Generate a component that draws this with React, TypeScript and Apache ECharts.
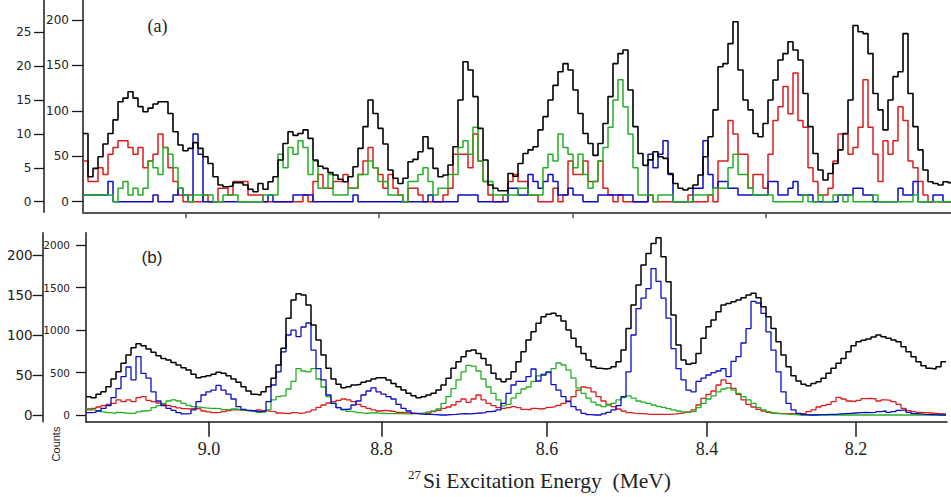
import React, { useEffect, useRef } from "react";
import * as echarts from "echarts";

// ---------- Panel (a): counts per channel ----------
const A_BLACK = [
  75, 27.5, 36.7, 49.5, 63.5, 75, 90, 110, 114, 121,
  114, 104.6, 99, 103, 107.5, 110, 110, 97, 77, 62.4,
  56, 58.7, 65, 58.7, 49.5, 42, 27.5, 18.3, 16.5, 17.2,
  21, 21, 18.3, 13.6, 11, 20, 13.6, 22, 27.5, 45.9,
  64, 77, 73, 75, 79, 69.7, 45.9, 39, 36.7, 32,
  29.4, 24.6, 22, 27.5, 38.5, 58.7, 82.6, 112, 97, 80.7,
  63.5, 34.9, 25.7, 20, 25.7, 44, 46.6, 55, 71.5, 58.7,
  36.7, 27.5, 29.4, 40.4, 60.5, 112, 154, 145, 115.6, 80.7,
  45.9, 18.3, 14.7, 12, 12, 31, 28, 42, 53, 57,
  60.5, 79, 93.6, 112, 128, 143, 152, 145, 123, 97,
  75, 64, 51, 64, 86, 115.6, 152, 163, 167, 123,
  82.6, 53, 40, 46, 55, 49.5, 47.7, 31, 20, 14.7,
  12.8, 14.7, 18.3, 29.4, 49.5, 71.5, 101, 148.6, 152, 174,
  198, 145, 112, 101, 75, 71.5, 86, 112, 134, 156,
  163, 176, 167, 156, 119, 82.6, 53, 34.9, 23.8, 31,
  42, 57, 75, 112, 194, 187, 185, 163, 119, 101,
  79, 112, 137.6, 143, 185, 119, 82.6, 57, 34.9, 22,
  20, 18.3, 22, 21,
];
const A_RED = [
  6, 3, 3, 5, 4, 7, 8, 9, 9, 8,
  7, 8, 5, 6, 7, 10, 8, 5, 3, 1,
  0, 1, 0, 0, 1, 0, 0, 2, 2, 1,
  3, 3, 3, 1, 1, 1, 0, 0, 0, 0,
  0, 0, 0, 0, 1, 0, 3, 4, 2, 2,
  3, 3, 4, 2, 2, 4, 6, 8, 5, 4,
  2, 4, 2, 1, 0, 2, 2, 1, 0, 0,
  0, 0, 1, 2, 7, 7, 7, 5, 10, 6,
  3, 1, 0, 0, 1, 3, 4, 3, 3, 1,
  1, 0, 0, 0, 2, 0, 1, 6, 4, 4,
  6, 3, 3, 6, 2, 1, 0, 1, 0, 0,
  0, 0, 0, 1, 0, 0, 0, 0, 0, 0,
  0, 1, 0, 0, 0, 1, 0, 6, 6, 12,
  10, 7, 7, 2, 4, 4, 2, 7, 12, 14,
  17, 13, 19, 12, 11, 5, 3, 1, 1, 2,
  6, 10, 10, 7, 8, 11, 18, 11, 7, 3,
  9, 7, 9, 14, 12, 6, 5, 3, 1, 0,
  0, 0, 0, 0,
];
const A_GREEN = [
  1, 1, 1, 1, 1, 1, 0, 2, 3, 1,
  2, 1, 2, 6, 5, 4, 8, 7, 5, 2,
  1, 0, 1, 1, 1, 1, 0, 0, 1, 1,
  1, 0, 0, 0, 0, 0, 1, 1, 1, 7,
  5, 8, 7, 9, 8, 4, 6, 2, 2, 4,
  1, 1, 1, 2, 2, 4, 4, 6, 5, 3,
  3, 1, 1, 1, 0, 3, 3, 4, 5, 3,
  1, 2, 2, 4, 4, 8, 9, 7, 11, 6,
  3, 3, 1, 1, 1, 1, 1, 2, 2, 1,
  1, 1, 5, 7, 6, 10, 8, 7, 5, 7,
  4, 2, 3, 6, 8, 11, 15, 18, 14, 10,
  5, 1, 1, 1, 0, 1, 1, 1, 0, 0,
  0, 0, 1, 1, 1, 1, 2, 2, 2, 5,
  7, 4, 4, 2, 1, 1, 1, 1, 0, 0,
  0, 0, 0, 0, 1, 0, 0, 1, 0, 0,
  1, 1, 0, 1, 0, 0, 0, 0, 1, 0,
  0, 0, 0, 0, 0, 0, 1, 0, 0, 0,
  0, 0, 0, 0,
];
const A_BLUE = [
  1, 1, 1, 1, 1, 3, 0, 0, 0, 0,
  0, 0, 0, 0, 1, 0, 0, 0, 1, 2,
  1, 0, 10, 7, 0, 0, 0, 0, 0, 0,
  0, 0, 0, 0, 0, 0, 0, 1, 0, 0,
  0, 0, 1, 1, 1, 1, 0, 0, 0, 0,
  0, 0, 0, 0, 1, 0, 0, 0, 0, 0,
  0, 0, 0, 0, 0, 0, 0, 0, 0, 1,
  0, 0, 0, 0, 0, 1, 1, 1, 1, 0,
  0, 0, 0, 0, 0, 2, 2, 1, 1, 4,
  3, 2, 3, 4, 3, 1, 1, 2, 1, 1,
  0, 0, 0, 1, 1, 1, 1, 1, 1, 1,
  0, 0, 0, 7, 5, 7, 9, 4, 0, 0,
  0, 0, 2, 2, 9, 4, 2, 3, 3, 2,
  2, 1, 1, 1, 1, 1, 1, 3, 3, 1,
  1, 2, 3, 1, 1, 1, 0, 0, 0, 0,
  0, 1, 1, 1, 2, 2, 1, 1, 0, 0,
  0, 0, 0, 2, 1, 1, 3, 0, 0, 0,
  1, 1, 0, 0,
];

// ---------- Panel (b): counts per channel ----------
const B_BLACK = [
  216, 204, 243, 274, 333, 423, 510, 608, 706, 792,
  839, 815, 776, 737, 698, 666, 647, 619, 588, 557,
  529, 478, 439, 451, 463, 478, 502, 490, 463, 423,
  384, 333, 282, 243, 235, 274, 333, 431, 588, 784,
  1137, 1352, 1427, 1411, 1294, 1058, 882, 706, 549, 423,
  361, 321, 333, 353, 361, 384, 400, 423, 439, 439,
  412, 372, 333, 294, 255, 227, 204, 216, 235, 255,
  294, 353, 431, 549, 627, 686, 753, 764, 725, 666,
  588, 490, 423, 392, 423, 510, 627, 745, 882, 980,
  1078, 1156, 1184, 1196, 1168, 1105, 1000, 902, 804, 725,
  647, 568, 549, 541, 549, 568, 627, 764, 1019, 1294,
  1529, 1764, 1901, 2019, 2085, 1862, 1568, 1176, 823, 647,
  596, 608, 725, 902, 1039, 1117, 1215, 1294, 1313, 1333,
  1352, 1380, 1411, 1431, 1380, 1274, 1156, 1019, 862, 706,
  568, 463, 400, 361, 345, 372, 392, 431, 490, 549,
  608, 666, 745, 815, 862, 878, 894, 917, 941, 921,
  902, 882, 862, 804, 745, 686, 627, 580, 549, 541,
  568, 627,
];
const B_BLUE = [
  2.9, 3.3, 5, 8.3, 11.7, 21.7, 33, 48, 60, 44,
  73, 52, 46, 29, 17.5, 11.7, 8.3, 5.8, 2.9, 1.3,
  1.7, 6.3, 16.7, 25, 29, 31, 37, 31, 26, 20,
  10.4, 7, 5.8, 5, 4.2, 5, 16.7, 37.5, 54, 79,
  100, 106, 98, 110, 115, 81, 58, 44, 25, 14.6,
  9.2, 7, 7.5, 12.5, 17.5, 25, 30, 34, 29, 26,
  23, 20, 13.3, 8.3, 5, 2.1, 1.3, 0.8, 0.8, 0.4,
  0, 0, 0.4, 0.8, 1.3, 1.7, 1.3, 2.1, 2.5, 2.9,
  4.2, 5, 6.3, 14.6, 27, 37.5, 42, 42, 48, 57.5,
  42.5, 50, 54, 38, 31, 23, 16.7, 10.4, 6.3, 2.1,
  0.4, 0, 0, 1.3, 3.3, 6.3, 11.7, 23, 54, 100,
  133, 146, 158, 183, 167, 146, 121, 83, 58, 44,
  31, 29, 42, 46, 50, 53, 55, 58, 48, 67,
  73, 90, 108, 142, 140, 127, 104, 81, 54, 29,
  14.6, 6.3, 2.1, 0.4, 0, 0, 0.4, 0.4, 0.8, 0.8,
  1.3, 1.7, 2.1, 2.5, 2.9, 3.3, 2.9, 3.3, 4.2, 5,
  3.3, 4.2, 5.8, 6.3, 3.3, 1.7, 1.3, 0.8, 0.4, 0.4,
  0, 0,
];
const B_GREEN = [
  7.9, 6.3, 5, 3.8, 2.9, 2.1, 3.3, 2.5, 2.1, 2.1,
  3.8, 5, 5.8, 9.2, 11.7, 14.6, 17.5, 18.8, 17.5, 14.6,
  12, 10.4, 9.6, 8.8, 8.3, 8.3, 7.9, 6.7, 6.3, 7.5,
  6.7, 5.8, 5, 4.2, 3.3, 3.8, 6.3, 18.8, 23, 24,
  32.5, 42, 58, 55, 54, 58, 45, 35, 23, 14.6,
  9.2, 6.3, 4.6, 3.8, 2.9, 2.1, 2.5, 2.9, 2.1, 2.1,
  1.7, 1.7, 1.7, 1.3, 1.3, 1.7, 2.1, 2.5, 3.8, 5,
  7.5, 14.6, 23, 33, 44, 54, 62, 61, 55, 45,
  35, 27, 18.8, 11.3, 13.3, 21, 27, 32.5, 35, 42,
  49, 51, 53, 58, 65, 62.5, 56, 46, 34, 27,
  21, 16, 12.5, 10.4, 12.5, 14.6, 18.8, 21.7, 24, 21,
  17.5, 16, 14.6, 12.5, 10.8, 9.6, 7.9, 6.3, 5, 3.8,
  3.3, 4.2, 9.2, 14.6, 20, 24, 29, 32.5, 34, 31,
  27, 23, 18.8, 14.6, 9.2, 6.3, 4.2, 2.5, 1.7, 1.3,
  0.8, 0.4, 0, 0, 0, 0, 0, 0, 0, 0,
  0, 0, 0, 0, 0, 0, 0, 0, 0, 0,
  0, 0, 0, 0, 0, 0, 0, 0, 0, 0,
  0, 0,
];
const B_RED = [
  6.3, 8.3, 10, 11.7, 13.3, 14.6, 18.8, 16.7, 18.8, 16.7,
  21.7, 23, 18.3, 16.7, 15, 13.3, 11.7, 10.4, 8.8, 7.9,
  7.5, 8.3, 7.5, 5, 3.8, 2.9, 3.3, 4.2, 5.4, 6.3,
  6.3, 5.8, 5.4, 5, 6.3, 5.4, 4.6, 4.2, 2.5, 2.1,
  1.7, 2.9, 2.1, 2.9, 3.8, 6.3, 9.6, 12.5, 15, 16.7,
  18.3, 20, 18.8, 16.7, 13.3, 10.4, 8.3, 6.3, 5, 5.8,
  5, 4.2, 3.3, 2.9, 2.5, 2.1, 1.7, 2.1, 2.5, 4.2,
  5.8, 8.3, 10, 12.5, 16.7, 20, 15.8, 20, 25, 18.8,
  14.6, 11.7, 9.2, 8.3, 9.2, 10.4, 9.2, 7, 6.3, 8.3,
  7.5, 8.3, 9.6, 10.4, 12, 14.6, 17.5, 23, 31, 35,
  34, 29, 23, 17.5, 13.3, 10.4, 7.5, 5, 2.9, 2.1,
  1.7, 1.3, 0.8, 0.8, 0.8, 0.8, 0.8, 1.3, 2.1, 2.9,
  3.8, 6.3, 12.5, 20.8, 25.8, 30, 37.5, 43.8, 39.6, 33.3,
  25.8, 18.8, 13.3, 10, 7, 5, 3.3, 2.1, 1.7, 1.7,
  1.7, 1.3, 0.8, 1.7, 4.2, 6.3, 10, 11.7, 13.3, 16.7,
  22, 20, 17.5, 16.7, 18.3, 20.4, 20.8, 20, 17.5, 18.8,
  18.3, 16.7, 13.3, 8.3, 5.4, 4.2, 3.3, 2.9, 2.5, 2.1,
  1.7, 1.3,
];

// ---------- Axes / ticks ----------
const A_CH_MAX = 173.6;
const B_CH_MAX = 172.2;
const A_X_TICKS = [20.6, 59.2, 97.9, 136.5];
const B_X_TICK_CH = [24.6, 59.1, 92.2, 124.2, 154.0];
const B_X_TICK_LABELS = ["9.0", "8.8", "8.6", "8.4", "8.2"];
const A_INNER_TICKS = [0, 50, 100, 150, 200];
const A_OUTER_TICKS = [0, 5, 10, 15, 20, 25];
const B_INNER_TICKS = [0, 500, 1000, 1500, 2000];
const B_OUTER_TICKS = [0, 50, 100, 150, 200];

const COLORS = { black: "#000000", red: "#dd1c1c", green: "#22b022", blue: "#0c0cc4" };

function toSteps(arr: number[]) {
  const pts: number[][] = arr.map((v, i) => [i, v]);
  pts.push([arr.length, arr[arr.length - 1]]);
  return pts;
}

function yAxisCfg(gridIndex: number, min: number, max: number, ticks: number[], offset: number, fontSize: number, margin: number, tickLen: number) {
  return {
    type: "value",
    gridIndex,
    position: "left",
    offset,
    min,
    max,
    splitLine: { show: false },
    axisLine: { show: true, lineStyle: { color: "#1a1a1a", width: 1.5 } },
    axisTick: { show: true, customValues: ticks, length: tickLen, lineStyle: { color: "#1a1a1a", width: 1.3 } },
    axisLabel: {
      show: true,
      customValues: ticks,
      margin,
      color: "#222",
      fontFamily: "DejaVu Sans",
      fontSize,
      formatter: (v: number) => String(Math.round(v)),
    },
  };
}

function series(data: number[], xi: number, yi: number, color: string, width: number) {
  return {
    type: "line",
    step: "end",
    xAxisIndex: xi,
    yAxisIndex: yi,
    data: toSteps(data),
    symbol: "none",
    silent: true,
    lineStyle: { color, width },
  };
}

export default function App() {
  const ref = useRef<HTMLDivElement>(null);
  useEffect(() => {
    if (!ref.current) return;
    const chart = echarts.init(ref.current, undefined, { renderer: "svg" });
    const option: any = {
      animation: false,
      backgroundColor: "#ffffff",
      grid: [
        { left: 83, top: 0, width: 868, height: 212.3 },
        { left: 86, top: 232.7, width: 861, height: 189 },
      ],
      xAxis: [
        {
          type: "value",
          gridIndex: 0,
          min: 0,
          max: A_CH_MAX,
          splitLine: { show: false },
          axisLine: { show: true, onZero: false, lineStyle: { color: "#555", width: 2 } },
          axisTick: { show: true, customValues: A_X_TICKS, length: 6, lineStyle: { color: "#555", width: 1.5 } },
          axisLabel: { show: false },
        },
        {
          type: "value",
          gridIndex: 1,
          min: 0,
          max: B_CH_MAX,
          splitLine: { show: false },
          axisLine: { show: true, onZero: false, lineStyle: { color: "#1a1a1a", width: 1.5 } },
          axisTick: { show: true, customValues: B_X_TICK_CH, length: 15, lineStyle: { color: "#1a1a1a", width: 1.5 } },
          axisLabel: {
            show: true,
            customValues: B_X_TICK_CH,
            margin: 18,
            color: "#222",
            fontFamily: "'Liberation Serif', serif",
            fontSize: 18,
            formatter: (v: number) => {
              const i = B_X_TICK_CH.findIndex((c) => Math.abs(c - v) < 0.01);
              return i >= 0 ? B_X_TICK_LABELS[i] : "";
            },
          },
        },
      ],
      yAxis: [
        yAxisCfg(0, -11.7, 222, A_INNER_TICKS, 0, 12, 14, 11),
        yAxisCfg(0, -1.56, 29.77, A_OUTER_TICKS, 39, 12, 12.5, 10),
        yAxisCfg(1, -78.8, 2144.7, B_INNER_TICKS, 0, 10.5, 16, 10),
        yAxisCfg(1, -8.375, 227.9, B_OUTER_TICKS, 43.3, 13.5, 10, 10),
      ],
      series: [
        series(A_RED, 0, 1, COLORS.red, 1.5),
        series(A_BLUE, 0, 1, COLORS.blue, 1.5),
        series(A_GREEN, 0, 1, COLORS.green, 1.5),
        series(A_BLACK, 0, 0, COLORS.black, 1.6),
        series(B_RED, 1, 3, COLORS.red, 1.3),
        series(B_GREEN, 1, 3, COLORS.green, 1.3),
        series(B_BLUE, 1, 3, COLORS.blue, 1.3),
        series(B_BLACK, 1, 2, COLORS.black, 1.5),
      ],
      graphic: [
        {
          type: "text",
          x: 157.5,
          y: 25.5,
          style: { text: "(a)", fill: "#222", font: "18px 'Liberation Serif'", align: "center", verticalAlign: "middle" },
        },
        {
          type: "text",
          x: 152,
          y: 257.5,
          style: { text: "(b)", fill: "#222", font: "17px 'Liberation Sans'", align: "center", verticalAlign: "middle" },
        },
        {
          type: "text",
          x: 56,
          y: 444,
          rotation: Math.PI / 2,
          style: { text: "Counts", fill: "#222", font: "11px 'Liberation Sans'", align: "center", verticalAlign: "middle" },
        },
        {
          type: "text",
          x: 408,
          y: 474.5,
          style: { text: "27", fill: "#222", font: "13px 'Liberation Serif'", align: "left", verticalAlign: "middle" },
        },
        {
          type: "text",
          x: 423,
          y: 481,
          style: { text: "Si Excitation Energy  (MeV)", fill: "#222", font: "21.5px 'Liberation Serif'", align: "left", verticalAlign: "middle" },
        },
      ],
    };
    chart.setOption(option);
    return () => chart.dispose();
  }, []);
  return (
    <div
      ref={ref}
      style={{ position: "fixed", left: 0, top: 0, width: 951, height: 497, background: "#fff" }}
    />
  );
}
